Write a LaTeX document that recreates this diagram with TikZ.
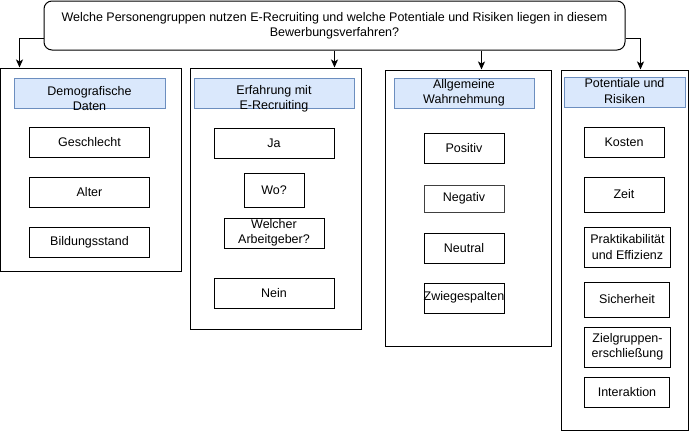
\documentclass[tikz,border=0pt]{standalone}
\usepackage{fontspec}
\setmainfont{Liberation Sans}
\usetikzlibrary{arrows.meta}
\definecolor{hdrfill}{HTML}{DAE8FC}
\definecolor{hdrline}{HTML}{6C8EBF}
\begin{document}
\begin{tikzpicture}[x=1pt,y=-1pt,
  every node/.style={font=\fontsize{12.5}{15.2}\selectfont, inner sep=0pt, align=center},
  container/.style={draw=black, line width=1pt, fill=white},
  hdr/.style={draw=hdrline, fill=hdrfill, line width=1pt},
  item/.style={draw=black, line width=1pt, fill=white},
  arr/.style={line width=1pt, -{Stealth[length=8pt,width=7pt,inset=2pt]}}]
\useasboundingbox (0,0) rectangle (691,431);
\fill[white] (0,0) rectangle (691,431);
% question box
\node[draw, line width=1pt, rounded corners=8pt, minimum width=581pt, minimum height=49pt] (q) at (334.5,25.5)
  {Welche Personengruppen nutzen E-Recruiting und welche Potentiale und Risiken liegen in diesem\\Bewerbungsverfahren?};
% containers
\node[container, minimum width=181pt, minimum height=203pt] (c1) at (90.5,169.5) {};
\node[container, minimum width=171pt, minimum height=261pt] (c2) at (275.5,198.5) {};
\node[container, minimum width=166pt, minimum height=276pt] (c3) at (468,208) {};
\node[container, minimum width=127pt, minimum height=360pt] (c4) at (624.5,250) {};
% headers
\node[hdr, minimum width=151pt, minimum height=30pt] (h1) at (89.5,93) {};
\node (h1t) at (89.5,98.5) {Demografische\\Daten};
\node[hdr, minimum width=160pt, minimum height=30pt] (h2) at (274,93) {};
\node (h2t) at (274,98.5) {Erfahrung mit\\E-Recruiting};
\node[hdr, minimum width=140pt, minimum height=30pt] (h3) at (464,93) {};
\node (h3t) at (464,92.5) {Allgemeine\\Wahrnehmung};
\node[hdr, minimum width=121pt, minimum height=30pt] (h4) at (624.5,92) {};
\node (h4t) at (624.5,91) {Potentiale und\\Risiken};
% column 1
\node[item, minimum width=120pt, minimum height=30pt] (g1) at (89.5,142) {Geschlecht};
\node[item, minimum width=120pt, minimum height=30pt] (g2) at (89.5,192) {Alter};
\node[item, minimum width=120pt, minimum height=30pt] (g3) at (89.5,242) {Bildungsstand};
% column 2
\node[item, minimum width=120pt, minimum height=30pt] (e1) at (274,143) {Ja};
\node[item, minimum width=60pt, minimum height=34pt] (e2) at (274,190.5) {Wo?};
\node[item, minimum width=100pt, minimum height=30pt] (e3) at (274,233) {Welcher\\Arbeitgeber?};
\node[item, minimum width=120pt, minimum height=30pt] (e4) at (274,293) {Nein};
% column 3
\node[item, minimum width=80pt, minimum height=30pt] (w1) at (464,148) {Positiv};
\node[item, draw=black!75, minimum width=80pt, minimum height=27pt] (w2) at (464,198.5) {Negativ};
\node[item, minimum width=80pt, minimum height=30pt] (w3) at (464,248) {Neutral};
\node[item, minimum width=80pt, minimum height=30pt] (w4) at (464,298) {};
\node (w4t) at (464,297) {Zwiegespalten};
% column 4
\node[item, minimum width=80pt, minimum height=30pt] (p1) at (624,142) {Kosten};
\node[item, minimum width=80pt, minimum height=35pt] (p2) at (624,194.5) {Zeit};
\node[item, minimum width=86pt, minimum height=40pt] (p3) at (627.5,247) {Praktikabilität\\und Effizienz};
\node[item, minimum width=85pt, minimum height=35pt] (p4) at (627,299.5) {Sicherheit};
\node[item, minimum width=86pt, minimum height=40pt] (p5) at (627.5,347) {Zielgruppen-\\erschließung};
\node[item, minimum width=85pt, minimum height=30pt] (p6) at (627,392) {Interaktion};
% connectors
\draw[arr] ([yshift=-12.5pt]q.west) -| ([xshift=20pt]c1.north west);
\draw[arr] (q.south) -- (q.south |- c2.north);
\coordinate (q3) at ([xshift=147pt]q.south);
\draw[arr] (q3) -- (q3 |- c3.north);
\draw[arr] ([yshift=-12.5pt]q.east) -| ([xshift=80pt]c4.north west);
\end{tikzpicture}
\end{document}
